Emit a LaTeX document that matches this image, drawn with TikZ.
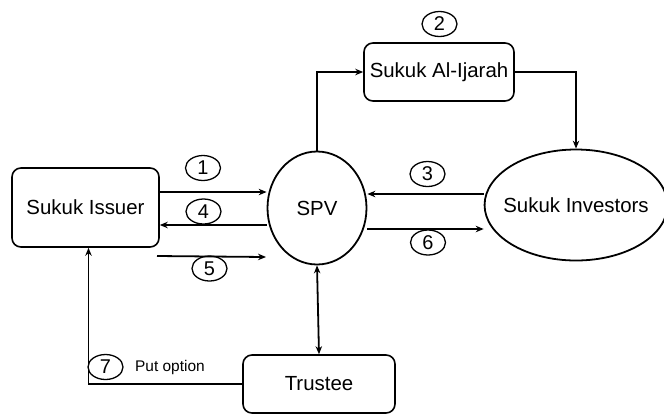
\documentclass[tikz,border=0pt]{standalone}
\usepackage{fontspec}
\setmainfont{Liberation Sans}
\usetikzlibrary{arrows.meta,positioning,shapes.geometric}

\tikzset{
  box/.style={draw, line width=1.6pt, rounded corners=9pt, font=\fontsize{20.5}{23}\selectfont},
  oval/.style={draw, ellipse, line width=1.8pt, inner xsep=-8bp, font=\fontsize{20.5}{23}\selectfont},
  num/.style={draw, ellipse, line width=1.3pt, minimum width=35bp, minimum height=25bp, inner sep=0pt, font=\fontsize{20}{22}\selectfont},
  arr/.style={line width=1.8pt, -{Stealth[length=8pt,width=6.5pt]}},
  dbl/.style={line width=1.8pt, {Stealth[length=8pt,width=6.5pt]}-{Stealth[length=8pt,width=6.5pt]}},
}

\begin{document}
\begin{tikzpicture}[x=1bp, y=-1bp]
  \useasboundingbox (0,0) rectangle (664,418);

  \node[box, minimum width=147bp, minimum height=79bp] (issuer) at (85.5,207.5) {Sukuk Issuer};
  \node[oval, minimum width=99bp, minimum height=113bp] (spv) at (317,208) {SPV};
  \node[oval, minimum width=175bp, minimum height=111bp] (inv) at (576,205) {Sukuk Investors};
  \node[box, minimum width=150bp, minimum height=58bp] (ijarah) at (439,72) {Sukuk Al-Ijarah};
  \node[box, minimum width=152bp, minimum height=58bp] (trustee) at (319,384) {Trustee};

  \node[num] (n1) at (203,168) {1};
  \node[num] (n2) at (439.5,24) {2};
  \node[num] (n3) at (427.5,174) {3};
  \node[num] (n4) at (203.5,211.5) {4};
  \node[num] (n5) at (209.5,268.5) {5};
  \node[num] (n6) at (428,242.5) {6};
  \node[num] (n7) at (105.5,367) {7};
  \node[right=8bp of n7, font=\fontsize{15.5}{17}\selectfont] (put) {Put option};

  \coordinate (a5) at (157,256);
  \coordinate (b5) at (266,257);

  \draw[arr] (issuer.east |- 0,192) -- (spv.west |- 0,192);
  \draw[arr] (spv.west |- 0,225) -- (issuer.east |- 0,225);
  \draw[arr] (a5) -- (b5);
  \draw[arr] (inv.west |- 0,194) -- (spv.east |- 0,194);
  \draw[arr] (spv.east |- 0,229) -- (inv.west |- 0,229);
  \draw[arr] (spv.north) |- (ijarah.west);
  \draw[arr] (ijarah.east) -| (inv.north);
  \draw[dbl] (spv.south) -- (trustee.north);
  \draw[arr] (trustee.west) -| ([xshift=3bp]issuer.south);
\end{tikzpicture}
\end{document}
